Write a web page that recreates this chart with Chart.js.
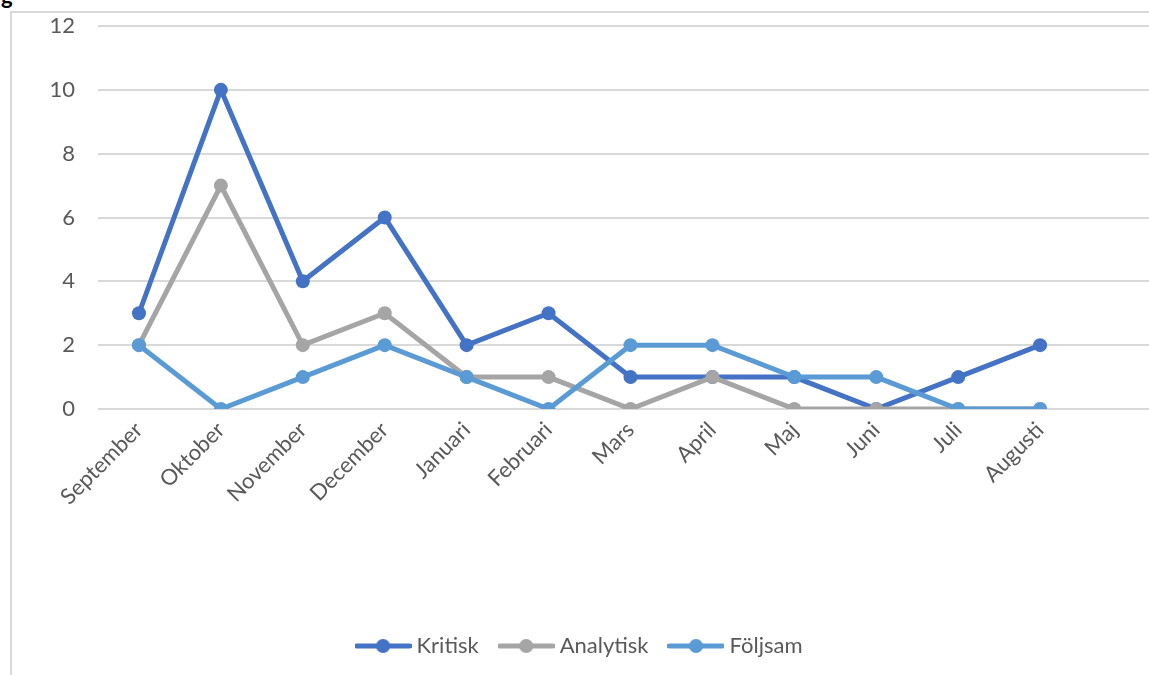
<!DOCTYPE html>
<html>
<head>
<meta charset="utf-8">
<script src="https://cdn.jsdelivr.net/npm/chart.js@4/dist/chart.umd.min.js"></script>
<style>
  html, body { margin: 0; padding: 0; background: #fff; overflow: hidden; width: 1149px; height: 675px; }
  #title { position: absolute; left: 1px; top: -18px; font: bold 22px Lato, sans-serif; color: #000; }
  #frame { position: absolute; left: 10px; top: 11px; width: 1200px; height: 700px;
           border-left: 2px solid #d9d9d9; border-top: 2px solid #d9d9d9; }
  #wrap { position: absolute; left: 0; top: 0; width: 1200px; height: 675px; }
</style>
</head>
<body>
<div id="title">g</div>
<div id="frame"></div>
<div id="wrap"><canvas id="chart"></canvas></div>
<script>
// Data
const months = ["September", "Oktober", "November", "December", "Januari", "Februari",
                "Mars", "April", "Maj", "Juni", "Juli", "Augusti", ""];
const kritisk   = [3, 10, 4, 6, 2, 3, 1, 1, 1, 0, 1, 2];
const analytisk = [2, 7, 2, 3, 1, 1, 0, 1, 0, 0, 0, 0];
const foljsam   = [2, 0, 1, 2, 1, 0, 2, 2, 1, 1, 0, 0];
const yTicks = [0, 2, 4, 6, 8, 10, 12];

const colors = { kritisk: "#4472c4", analytisk: "#a5a5a5", foljsam: "#5b9bd5" };

// legend marker: short line with a dot in the middle
function legendIcon(color) {
  const c = document.createElement("canvas");
  c.width = 57; c.height = 16;
  const g = c.getContext("2d");
  g.strokeStyle = color;
  g.lineWidth = 5;
  g.lineCap = "round";
  g.beginPath(); g.moveTo(2, 8); g.lineTo(55, 8); g.stroke();
  g.fillStyle = color;
  g.beginPath(); g.arc(28.5, 8, 7, 0, Math.PI * 2); g.fill();
  return c;
}

function series(label, data, color, order) {
  return {
    label, data, order,
    borderColor: color,
    backgroundColor: color,
    pointBackgroundColor: color,
    pointBorderWidth: 0,
    pointRadius: 7,
    pointHoverRadius: 7,
    borderWidth: 5,
    tension: 0,
    fill: false,
    pointStyle: "circle",
    legendIcon: legendIcon(color)
  };
}

const font = { family: "Lato, 'Open Sans', sans-serif", size: 22 };

new Chart(document.getElementById("chart"), {
  type: "line",
  data: {
    labels: months,
    datasets: [
      series("Kritisk", kritisk, colors.kritisk, 3),
      series("Analytisk", analytisk, colors.analytisk, 2),
      series("Följsam", foljsam, colors.foljsam, 1)
    ]
  },
  options: {
    responsive: true,
    maintainAspectRatio: false,
    animation: false,
    layout: { padding: { top: 26, right: 37, left: 0, bottom: 8 } },
    plugins: {
      tooltip: { enabled: false },
      legend: {
        position: "bottom",
        labels: {
          font, color: "#595959",
          usePointStyle: true,
          pointStyleWidth: 45,
          padding: 25,
          sort: (a, b) => a.datasetIndex - b.datasetIndex,
          generateLabels: (chart) => chart.data.datasets.map((ds, i) => ({
            text: ds.label,
            datasetIndex: i,
            pointStyle: ds.legendIcon,
            fillStyle: ds.borderColor,
            strokeStyle: ds.borderColor,
            lineWidth: 0,
            fontColor: "#595959",
            hidden: false
          }))
        }
      }
    },
    scales: {
      x: {
        offset: true,
        grid: { display: false },
        border: { display: false },
        ticks: { font, color: "#595959", minRotation: 45, maxRotation: 45, autoSkip: false, padding: 0 },
        afterFit: (s) => { s.height = 201; }
      },
      y: {
        min: 0, max: 12,
        afterBuildTicks: (s) => { s.ticks = yTicks.map(v => ({ value: v })); },
        grid: { color: "#d9d9d9", lineWidth: 2, drawTicks: false },
        border: { display: false },
        ticks: { font, color: "#595959", padding: 23 },
        afterFit: (s) => { s.width = 98; s.paddingTop = 0; s.paddingBottom = 0; }
      }
    }
  }
});
</script>
</body>
</html>
